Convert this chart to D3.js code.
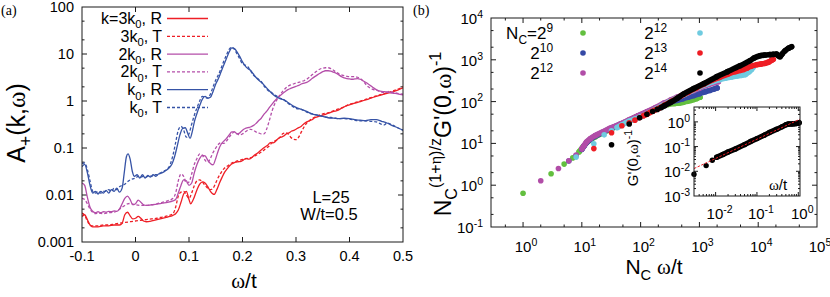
<!DOCTYPE html>
<html><head><meta charset="utf-8">
<script src="https://cdn.jsdelivr.net/npm/d3@7"></script>
<style>body{margin:0;background:#fff}svg{font-family:"Liberation Sans",Arial,sans-serif}</style>
</head><body><svg width="830" height="297"></svg>
<script>
// ---------------- DATA: panel (a)  [omega/t, A+] ----------------
const redR = [[-0.1,0.0035],[-0.095,0.0038],[-0.09,0.003],[-0.085,0.0023],[-0.08,0.0021],[-0.07,0.0021],[-0.06,0.0022],[-0.05,0.0022],[-0.04,0.0023],[-0.03,0.0023],[-0.025,0.0025],[-0.02,0.0038],[-0.015,0.0043],[-0.01,0.0036],[-0.005,0.0031],[0,0.0032],[0.005,0.0035],[0.01,0.0032],[0.015,0.0028],[0.02,0.0027],[0.03,0.0028],[0.04,0.003],[0.05,0.0032],[0.06,0.0034],[0.07,0.0037],[0.075,0.004],[0.08,0.0048],[0.085,0.007],[0.09,0.0105],[0.095,0.012],[0.1,0.008],[0.103,0.0065],[0.108,0.008],[0.115,0.013],[0.12,0.017],[0.125,0.019],[0.13,0.018],[0.135,0.015],[0.14,0.012],[0.147,0.0103],[0.152,0.013],[0.157,0.018],[0.162,0.024],[0.167,0.031],[0.172,0.037],[0.177,0.043],[0.182,0.047],[0.187,0.05],[0.192,0.051],[0.197,0.052],[0.202,0.056],[0.207,0.06],[0.212,0.058],[0.217,0.062],[0.222,0.07],[0.227,0.076],[0.232,0.085],[0.237,0.095],[0.242,0.105],[0.247,0.115],[0.252,0.13],[0.257,0.128],[0.262,0.14],[0.267,0.16],[0.272,0.17],[0.277,0.18],[0.282,0.2],[0.287,0.21],[0.292,0.23],[0.297,0.24],[0.302,0.26],[0.31,0.29],[0.315,0.33],[0.32,0.36],[0.325,0.38],[0.33,0.4],[0.335,0.44],[0.34,0.46],[0.345,0.48],[0.35,0.5],[0.355,0.52],[0.36,0.55],[0.365,0.57],[0.37,0.6],[0.375,0.62],[0.38,0.65],[0.385,0.7],[0.39,0.75],[0.395,0.8],[0.4,0.83],[0.41,0.9],[0.42,0.97],[0.43,1.05],[0.44,1.15],[0.45,1.25],[0.46,1.35],[0.47,1.45],[0.48,1.55],[0.49,1.7],[0.5,1.9]];
const redT = [[-0.1,0.0041],[-0.095,0.0037],[-0.09,0.0028],[-0.085,0.0023],[-0.08,0.0022],[-0.07,0.0022],[-0.06,0.0023],[-0.05,0.0023],[-0.04,0.0024],[-0.03,0.0025],[-0.02,0.0026],[-0.01,0.0027],[0,0.0028],[0.01,0.0029],[0.02,0.003],[0.03,0.0031],[0.04,0.0032],[0.05,0.0034],[0.06,0.0036],[0.07,0.004],[0.075,0.0055],[0.08,0.0095],[0.085,0.0115],[0.09,0.012],[0.095,0.01],[0.1,0.0085],[0.105,0.011],[0.11,0.016],[0.115,0.02],[0.12,0.021],[0.125,0.019],[0.13,0.016],[0.135,0.014],[0.14,0.013],[0.145,0.014],[0.15,0.018],[0.155,0.024],[0.16,0.03],[0.165,0.036],[0.17,0.04],[0.175,0.044],[0.18,0.048],[0.185,0.05],[0.19,0.053],[0.195,0.055],[0.2,0.057],[0.21,0.06],[0.22,0.065],[0.23,0.075],[0.24,0.09],[0.245,0.1],[0.25,0.11],[0.255,0.13],[0.26,0.14],[0.265,0.15],[0.27,0.17],[0.275,0.2],[0.28,0.21],[0.285,0.2],[0.29,0.17],[0.295,0.155],[0.3,0.15],[0.305,0.17],[0.31,0.22],[0.315,0.28],[0.32,0.34],[0.325,0.38],[0.33,0.42],[0.34,0.48],[0.35,0.53],[0.36,0.56],[0.37,0.62],[0.38,0.68],[0.39,0.75],[0.4,0.85],[0.41,0.92],[0.42,1.0],[0.43,1.08],[0.44,1.18],[0.45,1.28],[0.46,1.38],[0.47,1.5],[0.48,1.62],[0.49,1.78],[0.5,2.0]];
const magR = [[-0.1,0.018],[-0.095,0.016],[-0.09,0.009],[-0.085,0.0055],[-0.08,0.0045],[-0.075,0.0042],[-0.07,0.0044],[-0.065,0.0042],[-0.06,0.0044],[-0.055,0.0043],[-0.05,0.0045],[-0.045,0.0044],[-0.04,0.0046],[-0.035,0.0045],[-0.03,0.005],[-0.025,0.0065],[-0.02,0.0085],[-0.015,0.0095],[-0.01,0.008],[-0.005,0.0062],[0,0.0065],[0.005,0.0078],[0.01,0.007],[0.015,0.0062],[0.02,0.006],[0.03,0.0062],[0.04,0.0064],[0.05,0.0067],[0.06,0.007],[0.07,0.0075],[0.075,0.008],[0.08,0.011],[0.085,0.016],[0.09,0.021],[0.095,0.02],[0.1,0.016],[0.105,0.018],[0.11,0.03],[0.115,0.045],[0.12,0.06],[0.125,0.07],[0.13,0.068],[0.135,0.055],[0.14,0.047],[0.145,0.044],[0.15,0.06],[0.155,0.09],[0.16,0.12],[0.165,0.14],[0.17,0.16],[0.175,0.19],[0.18,0.22],[0.185,0.22],[0.19,0.2],[0.195,0.21],[0.2,0.24],[0.205,0.26],[0.21,0.27],[0.215,0.28],[0.22,0.3],[0.225,0.33],[0.23,0.38],[0.235,0.43],[0.24,0.52],[0.245,0.6],[0.25,0.72],[0.255,0.85],[0.26,1.0],[0.265,1.15],[0.27,1.3],[0.275,1.45],[0.28,1.6],[0.285,1.75],[0.29,1.85],[0.295,1.95],[0.3,2.05],[0.305,2.15],[0.31,2.3],[0.315,2.4],[0.32,2.5],[0.325,2.7],[0.33,3.0],[0.335,3.3],[0.34,3.6],[0.345,3.9],[0.35,4.2],[0.355,4.4],[0.36,4.4],[0.365,4.3],[0.37,4.1],[0.375,3.9],[0.38,3.6],[0.385,3.3],[0.39,3.1],[0.395,3.0],[0.4,2.95],[0.405,2.9],[0.41,2.95],[0.415,3.0],[0.42,2.9],[0.425,2.7],[0.43,2.5],[0.435,2.3],[0.44,2.1],[0.445,1.9],[0.45,1.75],[0.455,1.65],[0.46,1.6],[0.465,1.58],[0.47,1.55],[0.475,1.52],[0.48,1.48],[0.49,1.42],[0.5,1.35]];
const magT = [[-0.1,0.0085],[-0.095,0.008],[-0.09,0.0065],[-0.085,0.005],[-0.08,0.0043],[-0.075,0.004],[-0.07,0.0041],[-0.06,0.004],[-0.05,0.0042],[-0.04,0.0043],[-0.035,0.0045],[-0.03,0.005],[-0.025,0.0055],[-0.02,0.006],[-0.015,0.0065],[-0.01,0.0066],[-0.005,0.0064],[0,0.0062],[0.01,0.006],[0.02,0.006],[0.03,0.0062],[0.04,0.0065],[0.05,0.007],[0.06,0.0075],[0.07,0.0085],[0.075,0.011],[0.08,0.02],[0.085,0.028],[0.09,0.025],[0.095,0.018],[0.1,0.019],[0.105,0.028],[0.11,0.045],[0.115,0.06],[0.12,0.075],[0.125,0.07],[0.13,0.055],[0.135,0.05],[0.14,0.06],[0.145,0.08],[0.15,0.1],[0.155,0.12],[0.16,0.13],[0.165,0.125],[0.17,0.14],[0.175,0.17],[0.18,0.2],[0.185,0.22],[0.19,0.2],[0.195,0.19],[0.2,0.2],[0.205,0.22],[0.21,0.24],[0.215,0.25],[0.22,0.24],[0.225,0.22],[0.23,0.21],[0.235,0.2],[0.24,0.2],[0.245,0.25],[0.25,0.38],[0.255,0.6],[0.26,0.85],[0.265,1.1],[0.27,1.35],[0.275,1.6],[0.28,1.85],[0.285,2.05],[0.29,2.2],[0.295,2.3],[0.3,2.4],[0.305,2.5],[0.31,2.6],[0.315,2.7],[0.32,2.9],[0.325,3.2],[0.33,3.6],[0.335,4.0],[0.34,4.4],[0.345,4.8],[0.35,5.0],[0.355,5.1],[0.36,5.1],[0.365,4.9],[0.37,4.5],[0.375,4.1],[0.38,3.8],[0.385,3.6],[0.39,3.45],[0.395,3.35],[0.4,3.3],[0.41,3.3],[0.415,3.2],[0.42,3.0],[0.425,2.7],[0.43,2.3],[0.435,2.0],[0.44,1.85],[0.445,1.75],[0.45,1.7],[0.455,1.62],[0.46,1.55],[0.465,1.5],[0.47,1.55],[0.475,1.6],[0.48,1.55],[0.49,1.45],[0.5,1.4]];
const bluR = [[-0.1,0.040],[-0.095,0.045],[-0.09,0.030],[-0.085,0.016],[-0.08,0.011],[-0.075,0.012],[-0.07,0.0105],[-0.065,0.012],[-0.06,0.011],[-0.055,0.0125],[-0.05,0.011],[-0.045,0.013],[-0.04,0.012],[-0.035,0.014],[-0.03,0.0115],[-0.025,0.014],[-0.021,0.03],[-0.017,0.065],[-0.014,0.075],[-0.01,0.058],[-0.006,0.032],[-0.002,0.025],[0.003,0.027],[0.008,0.023],[0.013,0.027],[0.018,0.023],[0.023,0.026],[0.028,0.024],[0.033,0.027],[0.038,0.025],[0.043,0.028],[0.048,0.029],[0.053,0.031],[0.058,0.034],[0.063,0.038],[0.068,0.045],[0.073,0.065],[0.078,0.11],[0.083,0.19],[0.088,0.26],[0.093,0.27],[0.098,0.2],[0.102,0.16],[0.106,0.22],[0.11,0.36],[0.115,0.55],[0.12,0.8],[0.125,1.1],[0.13,1.25],[0.135,1.15],[0.14,1.2],[0.145,1.6],[0.15,2.3],[0.155,3.0],[0.16,4.2],[0.165,5.8],[0.17,8.0],[0.175,11],[0.18,13.5],[0.185,13],[0.19,11],[0.195,8.8],[0.2,6.8],[0.205,5.6],[0.21,4.9],[0.215,4.5],[0.22,3.8],[0.225,3.2],[0.23,2.8],[0.235,2.5],[0.24,2.2],[0.245,1.9],[0.25,1.65],[0.255,1.45],[0.26,1.3],[0.265,1.2],[0.27,1.12],[0.275,1.08],[0.28,1.02],[0.285,0.93],[0.29,0.85],[0.295,0.78],[0.3,0.73],[0.31,0.66],[0.32,0.6],[0.33,0.53],[0.34,0.5],[0.35,0.47],[0.36,0.44],[0.37,0.43],[0.38,0.42],[0.39,0.43],[0.4,0.42],[0.41,0.4],[0.42,0.39],[0.43,0.38],[0.44,0.4],[0.45,0.4],[0.46,0.37],[0.47,0.34],[0.48,0.3],[0.49,0.27],[0.5,0.24]];
const bluT = [[-0.1,0.047],[-0.095,0.048],[-0.09,0.035],[-0.085,0.02],[-0.08,0.012],[-0.075,0.011],[-0.07,0.012],[-0.065,0.011],[-0.06,0.012],[-0.055,0.012],[-0.05,0.013],[-0.045,0.012],[-0.04,0.014],[-0.035,0.013],[-0.03,0.015],[-0.025,0.016],[-0.02,0.017],[-0.015,0.019],[-0.01,0.021],[-0.005,0.022],[0,0.023],[0.005,0.025],[0.01,0.024],[0.015,0.025],[0.02,0.024],[0.025,0.026],[0.03,0.025],[0.035,0.027],[0.04,0.027],[0.045,0.029],[0.05,0.031],[0.055,0.033],[0.06,0.036],[0.065,0.045],[0.07,0.07],[0.075,0.13],[0.08,0.24],[0.085,0.29],[0.09,0.24],[0.095,0.17],[0.1,0.2],[0.105,0.32],[0.11,0.5],[0.115,0.72],[0.12,1.0],[0.125,1.25],[0.13,1.2],[0.135,1.15],[0.14,1.4],[0.145,2.0],[0.15,2.8],[0.155,3.6],[0.16,5.0],[0.165,7.0],[0.17,9.5],[0.175,12.5],[0.18,14],[0.185,12.5],[0.19,10],[0.195,7.8],[0.2,6.2],[0.205,5.8],[0.21,5.4],[0.215,4.4],[0.22,3.6],[0.225,3.2],[0.23,2.9],[0.235,2.6],[0.24,2.1],[0.245,1.8],[0.25,1.6],[0.255,1.5],[0.26,1.35],[0.265,1.25],[0.27,1.15],[0.275,1.1],[0.28,1.0],[0.285,0.9],[0.29,0.82],[0.295,0.75],[0.3,0.7],[0.31,0.66],[0.32,0.58],[0.33,0.53],[0.34,0.5],[0.35,0.47],[0.36,0.45],[0.37,0.44],[0.38,0.42],[0.39,0.42],[0.4,0.41],[0.41,0.39],[0.42,0.38],[0.43,0.38],[0.44,0.37],[0.45,0.36],[0.46,0.32],[0.465,0.31],[0.47,0.34],[0.48,0.31],[0.49,0.27],[0.5,0.24]];
const legendA = ["k=3k|0|, R","3k|0|, T","2k|0|, R","2k|0|, T","k|0|, R","k|0|, T"];
const xTicksA = [-0.1,0,0.1,0.2,0.3,0.4,0.5];
const xTickLabelsA = ["-0.1","0","0.1","0.2","0.3","0.4","0.5"];
const yTicksA = [0.001,0.01,0.1,1,10,100];
const yTickLabelsA = ["0.001","0.01","0.1","1","10","100"];

// ---------------- DATA: panel (b)  [N_C omega/t, scaled G'^-1] ----------------
const nc9  = [[1,0.64],[3,1.88],[5,3.2],[7,4.5],[9,6.3],[10.5,8.3],[12,10.3],[14,12.3],[17,14.5],[22,17.5],[30,21.5],[45,28],[65,36],[90,45],[130,56],[180,66],[240,80],[300,86],[380,90],[460,93],[540,97],[620,102],[700,106],[800,112],[900,118],[1024,127]];
const nc10 = [[6,3.8],[8,5.1],[10,7.2],[11,8.8],[12,10.4],[14,12.6],[17,15],[22,18],[30,22.5],[45,28.5],[65,36],[90,45],[130,57],[180,70],[250,85],[330,98],[420,108],[520,117],[650,128],[800,140],[1000,155],[1250,172],[1500,185],[1750,198],[2000,212]];
const nc11 = [[2,1.28],[4,2.5],[6,3.85],[8,5.3],[10,7.4],[11,9],[12,10.8],[14,13],[17,15.5],[22,18.5],[30,23],[45,29],[65,37],[90,46],[130,58],[180,72],[250,92],[330,110],[420,128],[520,145],[650,165],[800,185],[1000,210],[1250,240],[1500,262],[1800,285],[2100,300]];
const nc12 = [[8,4.7],[16,9.8],[24,16],[32,20],[40,24],[48,27.5],[56,31],[64,34],[80,38],[100,43],[130,52],[170,63],[230,80],[300,97],[400,118],[550,148],[750,185],[1000,225],[1300,262],[1700,300],[2200,335],[2800,365],[3500,390],[4300,410],[5200,425],[6000,440],[7000,520],[7700,590],[8200,660]];
const nc13 = [[16,7.5],[32,18],[48,26.5],[64,31],[80,36],[96,41],[112,46],[128,50],[144,55],[160,59],[200,68],[260,84],[350,105],[480,135],[650,170],[900,215],[1200,265],[1600,320],[2200,380],[3000,450],[4000,520],[5000,560],[5600,585],[6500,640],[7500,700],[9400,760],[11000,790],[13000,820],[15000,880],[17000,980],[18000,1030]];
const nc14 = [[32,9.3],[64,29],[96,41],[128,50],[160,58],[192,65],[224,72],[256,80],[320,95],[420,120],[532,150],[800,205],[1200,270],[1970,395],[3000,520],[4900,720],[7250,950],[8500,1100],[10700,1250],[13000,1300],[15800,1330],[18000,1350],[20500,1370],[22000,1250],[23500,1180],[25500,1380],[28600,1650],[33000,1900],[37000,2050]];
const denseFrom = [9, 10, 10, 40, 100, 200];   // x from which the points merge into a band
const legendB = [["N|C|=2","9"],["2","10"],["2","12"],["2","12"],["2","13"],["2","14"]];
const xExpB = [0,1,2,3,4,5];
const yExpB = [-1,0,1,2,3,4];
// inset
const insetPts = [[0.003,0.0076],[0.0059,0.017],[0.0083,0.028],[0.0106,0.037],[0.015,0.048],[0.02,0.06],[0.03,0.08],[0.05,0.12],[0.07,0.16],[0.1,0.21],[0.15,0.29],[0.2,0.37],[0.3,0.5],[0.4,0.63],[0.5,0.76],[0.55,0.8],[0.6,0.82],[0.7,0.82],[0.8,0.84],[0.9,0.86],[1.0,0.9],[1.05,0.92]];
const insetFit = [[0.003,0.0129],[1.1,1.29]];
const insetDenseFrom = 0.0106;
const xExpI = [-2,-1,0];
const yExpI = [-3,-2,-1,0];

// ---------------- DRAW ----------------
const svg = d3.select("svg");
const INK = "#1a1a1a";
const serif = "'Liberation Serif','Times New Roman',serif";

function rich(textSel, parts, size){
  let cur = 0;
  parts.forEach(p=>{
    const sh = p.s==="sup" ? -0.42*size : p.s==="sub" ? 0.28*size : 0;
    const ts = textSel.append("tspan").attr("dy", sh-cur).style("font-size", (p.s? size*0.7 : size)+"px").text(p.t);
    if(p.serif) ts.style("font-family", serif);
    cur = sh;
  });
}
function parseSub(str){ return str.split("|").map((t,i)=>({t, s: i%2? "sub": null})); }
function frame(g,x0,y0,x1,y1){
  g.append("rect").attr("x",x0).attr("y",y0).attr("width",x1-x0).attr("height",y1-y0)
   .attr("fill","none").attr("stroke",INK).attr("stroke-width",1);
}
function ticks(g, scale, vals, axis, len, r){
  vals.forEach(v=>{
    const p = scale(v);
    if(axis==="x"){
      g.append("line").attr("x1",p).attr("x2",p).attr("y1",r[3]).attr("y2",r[3]-len).attr("stroke",INK);
      g.append("line").attr("x1",p).attr("x2",p).attr("y1",r[1]).attr("y2",r[1]+len).attr("stroke",INK);
    } else {
      g.append("line").attr("y1",p).attr("y2",p).attr("x1",r[0]).attr("x2",r[0]+len).attr("stroke",INK);
      g.append("line").attr("y1",p).attr("y2",p).attr("x1",r[2]).attr("x2",r[2]-len).attr("stroke",INK);
    }
  });
}
function logMinors(lo, hi, mults){
  const out=[];
  for(let e=Math.floor(Math.log10(lo)); e<=Math.ceil(Math.log10(hi)); e++)
    mults.forEach(m=>{const v=m*Math.pow(10,e); if(v>lo && v<hi) out.push(v);});
  return out;
}

// ===== Panel (a) =====
const A = [82,7,403,242];
const xA = d3.scaleLinear().domain([-0.1,0.5]).range([A[0],A[2]]);
const yA = d3.scaleLog().domain([0.001,100]).range([A[3],A[1]]);
const gA = svg.append("g");
gA.append("clipPath").attr("id","clipA").append("rect").attr("x",A[0]).attr("y",A[1]).attr("width",A[2]-A[0]).attr("height",A[3]-A[1]);
ticks(gA, xA, xTicksA.slice(1,-1), "x", 5, A);
ticks(gA, yA, yTicksA.slice(1,-1), "y", 5, A);
ticks(gA, yA, logMinors(0.001,100,[2,5]), "y", 2.5, A);
xTicksA.forEach((v,i)=>gA.append("text").attr("x",xA(v)).attr("y",261).attr("text-anchor","middle").style("font-size","14.5px").text(xTickLabelsA[i]));
yTicksA.forEach((v,i)=>gA.append("text").attr("x",74).attr("y",yA(v)+5).attr("text-anchor","end").style("font-size","14.5px").text(yTickLabelsA[i]));

const lineA = d3.line().x(d=>xA(d[0])).y(d=>yA(d[1])).curve(d3.curveMonotoneX);
const redC="#ee1f26", magC="#b44ea9", bluC="#3653a6";
const seriesA = [
  {d:redR, c:redC, dash:null},{d:redT, c:redC, dash:"3,2"},
  {d:magR, c:magC, dash:null},{d:magT, c:magC, dash:"3,2"},
  {d:bluR, c:bluC, dash:null},{d:bluT, c:bluC, dash:"3,2"}];
const cg = gA.append("g").attr("clip-path","url(#clipA)");
seriesA.forEach(s=>{
  cg.append("path").attr("d",lineA(s.d)).attr("fill","none").attr("stroke",s.c).attr("stroke-width",1.3)
    .attr("stroke-dasharray",s.dash);
});
// legend (a)
seriesA.forEach((s,i)=>{
  const y = 18.5 + i*17.8;
  const t = gA.append("text").attr("x",162).attr("y",y+5.5).attr("text-anchor","end");
  rich(t, parseSub(legendA[i]), 16);
  gA.append("line").attr("x1",167).attr("x2",208).attr("y1",y).attr("y2",y).attr("stroke",s.c)
    .attr("stroke-width",1.3).attr("stroke-dasharray",s.dash);
});
frame(gA, ...A);
gA.append("text").attr("x",331).attr("y",203).attr("text-anchor","middle").style("font-size","16.5px").text("L=25");
gA.append("text").attr("x",329).attr("y",220).attr("text-anchor","middle").style("font-size","16.5px").text("W/t=0.5");
{
  const t = gA.append("text").attr("x",244).attr("y",288).attr("text-anchor","middle").style("font-size","21px");
  rich(t,[{t:"ω",serif:true},{t:"/t"}],21);
  const ty = gA.append("text").attr("transform","translate(25,123) rotate(-90)").attr("text-anchor","middle").style("font-size","25px");
  rich(ty,[{t:"A"},{t:"+",s:"sub"},{t:"(k,"},{t:"ω",serif:true},{t:")"}],25);
}
svg.append("text").attr("x",1).attr("y",15).style("font-family",serif).style("font-size","14px").text("(a)");

// ===== Panel (b) =====
const B = [491,18,817,227];
const xB = d3.scaleLog().domain([0.285,1e5]).range([B[0],B[2]]);
const yB = d3.scaleLog().domain([0.1,1e4]).range([B[3],B[1]]);
const gB = svg.append("g");
ticks(gB, xB, xExpB.map(e=>Math.pow(10,e)).filter(v=>v<1e5), "x", 5, B);
ticks(gB, xB, logMinors(0.285,1e5,[2,5]), "x", 2.5, B);
ticks(gB, yB, yExpB.slice(1,-1).map(e=>Math.pow(10,e)), "y", 5, B);
ticks(gB, yB, logMinors(0.1,1e4,[2,5]), "y", 2.5, B);
xExpB.forEach(e=>{
  const t=gB.append("text").attr("x",xB(Math.pow(10,e))+3).attr("y",252).attr("text-anchor","middle").style("font-size","15px");
  rich(t,[{t:"10"},{t:String(e),s:"sup"}],15);
});
yExpB.forEach(e=>{
  const t=gB.append("text").attr("x",483).attr("y",yB(Math.pow(10,e))+6).attr("text-anchor","end").style("font-size","15px");
  rich(t,[{t:"10"},{t:String(e),s:"sup"}],15);
});
const colsB = ["#63bf3f","#3549a5","#b14da7","#6fcbe0","#ee1d24","#000000"];
const seriesB = [nc9,nc10,nc11,nc12,nc13,nc14];
const lineB = d3.line().x(d=>xB(d[0])).y(d=>yB(d[1])).curve(d3.curveMonotoneX);
seriesB.forEach((s,i)=>{
  const dense = s.filter(d=>d[0]>=denseFrom[i]);
  gB.append("path").attr("d",lineB(dense)).attr("fill","none").attr("stroke",colsB[i])
    .attr("stroke-width",5.6).attr("stroke-linecap","round").attr("stroke-linejoin","round");
  gB.selectAll(null).data(s).enter().append("circle").attr("cx",d=>xB(d[0])).attr("cy",d=>yB(d[1]))
    .attr("r",2.8).attr("fill",colsB[i]);
});
legendB.forEach((l,i)=>{
  const col = Math.floor(i/3), row = i%3;
  const y = 33 + row*20;
  const t = gB.append("text").attr("x",col? 667:553).attr("y",y+6).attr("text-anchor","end").style("font-size","17px");
  const parts = l[0].split("|").map((p,j)=>({t:p, s:j%2?"sub":null}));
  parts.push({t:l[1], s:"sup"});
  rich(t, parts, 17);
  gB.append("circle").attr("cx",col? 700:583).attr("cy",y).attr("r",2.8).attr("fill",colsB[i]);
});
frame(gB, ...B);
{
  const t = gB.append("text").attr("x",654).attr("y",274).attr("text-anchor","middle").style("font-size","21px");
  rich(t,[{t:"N"},{t:"C",s:"sub"},{t:" "},{t:"ω",serif:true},{t:"/t"}],21);
  const ty = gB.append("text").attr("transform","translate(451,134) rotate(-90)").attr("text-anchor","middle").style("font-size","23px");
  rich(ty,[{t:"N"},{t:"C",s:"sub"},{t:"(1+",s:"sup"},{t:"η",s:"sup",serif:true},{t:")/z",s:"sup"},{t:"G'(0,"},{t:"ω",serif:true},{t:")"},{t:"-1",s:"sup"}],23);
}
svg.append("text").attr("x",413).attr("y",15).style("font-family",serif).style("font-size","14px").text("(b)");

// ===== Inset =====
const I = [694,107,800,196];
const xI = d3.scaleLog().domain([0.003,1.1]).range([I[0],I[2]]);
const yI = d3.scaleLog().domain([0.001,4]).range([I[3],I[1]]);
const gI = svg.append("g");
gI.append("rect").attr("x",I[0]).attr("y",I[1]).attr("width",I[2]-I[0]).attr("height",I[3]-I[1]).attr("fill","#fff");
ticks(gI, xI, [0.01,0.1,1].filter(v=>v<1.1), "x", 4, I);
ticks(gI, xI, logMinors(0.003,1.1,[2,3,4,5,6,7,8,9]), "x", 2, I);
ticks(gI, yI, [0.01,0.1,1], "y", 4, I);
ticks(gI, yI, logMinors(0.001,4,[2,3,4,5,6,7,8,9]), "y", 2, I);
const lineI = d3.line().x(d=>xI(d[0])).y(d=>yI(d[1]));
gI.append("path").attr("d",lineI(insetPts.filter(d=>d[0]>=insetDenseFrom))).attr("fill","none").attr("stroke","#000")
  .attr("stroke-width",5.4).attr("stroke-linecap","round").attr("stroke-linejoin","round");
gI.selectAll(null).data(insetPts).enter().append("circle").attr("cx",d=>xI(d[0])).attr("cy",d=>yI(d[1])).attr("r",2.7).attr("fill","#000");
gI.append("path").attr("d",lineI(insetFit)).attr("fill","none").attr("stroke","#ee1d24").attr("stroke-width",1).attr("stroke-dasharray","2.5,1.5");
frame(gI, ...I);
xExpI.forEach(e=>{
  const t=gI.append("text").attr("x",xI(Math.pow(10,e))+4).attr("y",219).attr("text-anchor","middle").style("font-size","15px");
  rich(t,[{t:"10"},{t:String(e),s:"sup"}],15);
});
yExpI.forEach(e=>{
  const t=gI.append("text").attr("x",690).attr("y",yI(Math.pow(10,e))+6).attr("text-anchor","end").style("font-size","15px");
  rich(t,[{t:"10"},{t:String(e),s:"sup"}],15);
});
{
  const t=gI.append("text").attr("x",778).attr("y",190).attr("text-anchor","middle").style("font-size","15px");
  rich(t,[{t:"ω",serif:true},{t:"/t"}],15);
  const ty=gI.append("text").attr("transform","translate(638,158) rotate(-90)").attr("text-anchor","middle").style("font-size","15px");
  rich(ty,[{t:"G'(0,"},{t:"ω",serif:true},{t:")"},{t:"-1",s:"sup"}],15);
}
</script></body></html>
